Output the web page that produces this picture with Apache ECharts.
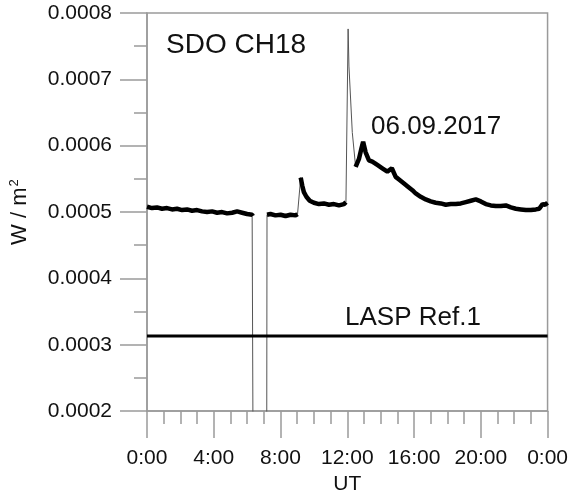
<!DOCTYPE html>
<html>
<head>
<meta charset="utf-8">
<script src="https://cdn.jsdelivr.net/npm/echarts@6/dist/echarts.min.js"></script>
<style>html,body{margin:0;padding:0;background:#fff}#c{width:571px;height:500px}</style>
</head>
<body>
<div id="c"></div>
<script>
// Time of day (UT, hours) and SDO CH18 irradiance (W/m^2)
const hours = [0.00,0.05,0.30,0.60,0.90,1.20,1.50,1.80,2.10,2.40,2.70,3.00,3.30,3.60,3.90,4.20,4.50,4.80,5.10,5.40,5.70,6.00,6.30,6.34,6.36,7.17,7.19,7.40,7.70,8.00,8.30,8.60,8.90,9.02,9.21,9.30,9.40,9.55,9.75,10.0,10.3,10.6,10.9,11.2,11.5,11.8,11.9,11.92,12.05,12.10,12.30,12.50,12.55,12.70,12.85,12.95,13.10,13.30,13.50,13.80,14.10,14.40,14.67,14.90,15.10,15.40,15.60,15.90,16.10,16.40,16.70,17.00,17.30,17.60,17.90,18.20,18.50,18.80,19.10,19.40,19.70,20.00,20.30,20.60,20.90,21.20,21.50,21.80,22.10,22.40,22.70,23.00,23.30,23.50,23.70,23.85,24.00];
const flux = [0.000508,0.000510,0.000506,0.000507,0.000505,0.000506,0.000504,0.000505,0.000503,0.000504,0.000502,0.000503,0.000501,0.000500,0.000501,0.000499,0.000500,0.000498,0.000499,0.000501,0.000499,0.000497,0.000496,0.000494,0.000100,0.000100,0.000496,0.000497,0.000495,0.000496,0.000494,0.000496,0.000495,0.000497,0.000552,0.000540,0.000530,0.000523,0.000517,0.000514,0.000512,0.000513,0.000511,0.000512,0.000510,0.000512,0.000513,0.000515,0.000776,0.000720,0.000620,0.000568,0.000567,0.000580,0.000596,0.000606,0.000590,0.000578,0.000576,0.000571,0.000566,0.000561,0.000566,0.000553,0.000549,0.000543,0.000539,0.000533,0.000528,0.000523,0.000519,0.000516,0.000514,0.000513,0.000511,0.000512,0.000512,0.000513,0.000515,0.000517,0.000519,0.000516,0.000512,0.000510,0.000509,0.000509,0.000510,0.000507,0.000505,0.000504,0.000503,0.000503,0.000504,0.000505,0.000512,0.000511,0.000514];
// LASP reference level
const refHours = [0, 24];
const refLevel = [0.000313, 0.000313];
// Axes
const xTicks = [0, 4, 8, 12, 16, 20, 24];
const yMin = 0.0002, yMax = 0.0008, yStep = 0.0001;

const full = hours.map((h, i) => [h, flux[i]]);
// thick band: break the line across steep jumps (those are drawn thin)
const band = [];
for (let i = 0; i < hours.length; i++) {
  band.push([hours[i], flux[i]]);
  if (i < hours.length - 1) {
    const slope = Math.abs(flux[i + 1] - flux[i]) / (hours[i + 1] - hours[i]);
    if (slope > 0.0002) band.push([(hours[i] + hours[i + 1]) / 2, null]);
  }
}
const ref = refHours.map((h, i) => [h, refLevel[i]]);

const axisGrey = '#9a9a9a';
const font = 'Liberation Sans, Arial, sans-serif';
const chart = echarts.init(document.getElementById('c'));
chart.setOption({
  animation: false,
  grid: { left: 142, right: 23, top: 13, bottom: 85, show: true, borderColor: axisGrey, borderWidth: 1.5, backgroundColor: 'transparent' },
  xAxis: {
    type: 'value', min: xTicks[0], max: xTicks[xTicks.length - 1], interval: 4,
    name: 'UT', nameLocation: 'middle', nameGap: 62,
    nameTextStyle: { fontSize: 21, color: '#111', fontFamily: font },
    axisLine: { lineStyle: { color: axisGrey, width: 1.5 } },
    axisTick: { show: true, inside: false, length: 27, lineStyle: { color: axisGrey, width: 1.5 } },
    minorTick: { show: true, splitNumber: 4, length: 13, lineStyle: { color: axisGrey, width: 1.5 } },
    axisLabel: { margin: 37, fontSize: 21, color: '#111', fontFamily: font, formatter: v => (v % 24) + ':00' },
    splitLine: { show: false }
  },
  yAxis: {
    type: 'value', min: yMin, max: yMax, interval: yStep,
    name: 'W / m{sup|2}', nameLocation: 'middle', nameGap: 116, nameRotate: 90,
    nameTextStyle: { fontSize: 22, color: '#111', fontFamily: font, rich: { sup: { fontSize: 13, verticalAlign: 'top', color: '#111', fontFamily: font, padding: [0, 0, 10, 1] } } },
    axisLine: { show: true, lineStyle: { color: axisGrey, width: 1.5 } },
    axisTick: { show: true, inside: false, length: 27, lineStyle: { color: axisGrey, width: 1.5 } },
    minorTick: { show: true, splitNumber: 2, length: 13, lineStyle: { color: axisGrey, width: 1.5 } },
    axisLabel: { margin: 35, fontSize: 21, color: '#111', fontFamily: font, formatter: v => v.toFixed(4) },
    splitLine: { show: false }
  },
  series: [
    { name: 'CH18 thin', type: 'line', data: full, showSymbol: false, clip: true,
      lineStyle: { color: '#555', width: 1 }, z: 2 },
    { name: 'CH18', type: 'line', data: band, showSymbol: false, clip: true, connectNulls: false,
      lineStyle: { color: '#000', width: 4.5 }, z: 3 },
    { name: 'LASP Ref.1', type: 'line', data: ref, showSymbol: false,
      lineStyle: { color: '#000', width: 3 }, z: 3 }
  ],
  graphic: [
    { type: 'text', left: 166, top: 31, style: { text: 'SDO CH18', fontSize: 28, fill: '#111', fontFamily: font } },
    { type: 'text', left: 371, top: 114, style: { text: '06.09.2017', fontSize: 26, fill: '#111', fontFamily: font } },
    { type: 'text', left: 345, top: 305, style: { text: 'LASP Ref.1', fontSize: 26, fill: '#111', fontFamily: font } }
  ]
});
</script>
</body>
</html>
